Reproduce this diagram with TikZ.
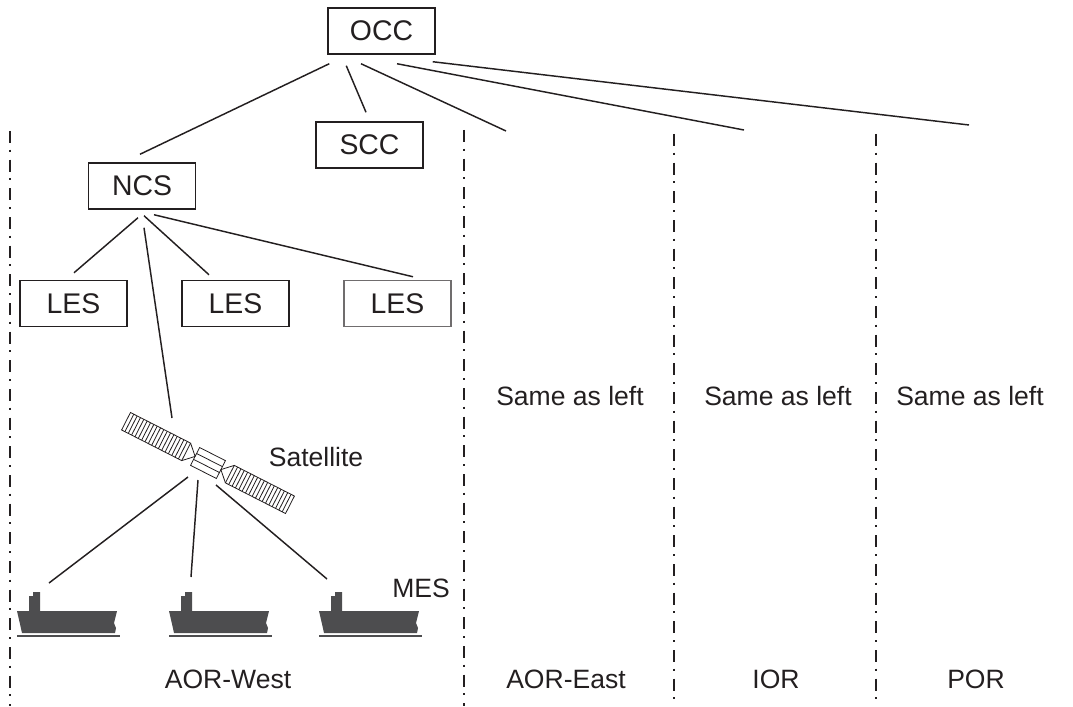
\documentclass[tikz,border=0pt]{standalone}
\usepackage{fontspec}
\setmainfont{Liberation Sans}
\usepackage{tikz}

\definecolor{tinta}{RGB}{35,31,32}
\definecolor{casco}{RGB}{77,77,79}

\tikzset{
	caja/.style={draw=tinta, line width=1.1pt, minimum width=80.25pt, minimum height=34.5pt, inner sep=0pt, text=tinta, font=\fontsize{21.3}{24}\selectfont},
	etiqueta/.style={inner sep=0pt, text=tinta, font=\fontsize{19.9}{24}\selectfont},
	enlace/.style={draw=tinta, line width=1.1pt},
	limite/.style={draw=tinta, line width=0.9pt, dash pattern=on 9pt off 5pt on 1.5pt off 6pt},
	barco/.pic={
		\fill[casco] (0,0) -- (100,0) -- (97,12) -- (99,17) -- (98,22) -- (5,22) -- (3,13) -- cycle;
		\fill[casco] (12,0) -- (12,-15) -- (16,-15) -- (16,-19) -- (23,-19) -- (23,0) -- cycle;
		\draw[casco, line width=1.1pt] (0,25) -- (103,25);
	}
}

\begin{document}
\begin{tikzpicture}[x=0.75pt, y=-0.75pt]

			\useasboundingbox (0,0) rectangle (1073,706);

			% Cajas de control
			\node[caja] (occ) at (381.5,31) {OCC};
			\node[caja] (scc) at (369.5,145) {SCC};
			\node[caja] (ncs) at (142,186) {NCS};
			\node[caja] (les1) at (73.5,303.5) {LES};
			\node[caja] (les2) at (235.5,303.5) {LES};
			\node[caja, draw=tinta!65] (les3) at (397.5,303.5) {LES};

			% Extremos libres hacia las otras regiones
			\coordinate (fin-este) at (506,131);
			\coordinate (fin-ior) at (744,130);
			\coordinate (fin-por) at (969,125);

			% Satelite y barcos
			\coordinate (sat) at (208,463);
			\coordinate (mes1) at (17,611);
			\coordinate (mes2) at (169,611);
			\coordinate (mes3) at (319,611);

			% Lineas divisorias de las regiones
			\draw[limite] (10,131) -- (10,706);
			\draw[limite] (464,130) -- (464,706);
			\draw[limite] (674,134) -- (674,706);
			\draw[limite] (876,134) -- (876,706);

			% Enlaces desde OCC
			\draw[enlace] ([shift={(2,9)}]occ.south west) -- ([shift={(-2,-8)}]ncs.north);
			\draw[enlace] ([shift={(19,11)}]occ.south west) -- ([shift={(-3.5,-9)}]scc.north);
			\draw[enlace] ([shift={(-20.5,9)}]occ.south) -- (fin-este);
			\draw[enlace] ([shift={(15.5,9)}]occ.south) -- (fin-ior);
			\draw[enlace] ([shift={(-3,7)}]occ.south east) -- (fin-por);

			% Enlaces desde NCS
			\draw[enlace] ([shift={(-4,8)}]ncs.south) -- ([shift={(0.5,-7)}]les1.north);
			\draw[enlace] ([shift={(2,6)}]ncs.south) -- ([shift={(-26.5,-5)}]les2.north);
			\draw[enlace] ([shift={(12,5)}]ncs.south) -- ([shift={(15.5,-3)}]les3.north);
			\draw[enlace] ([shift={(2,18)}]ncs.south) -- ([shift={(-36,-45)}]sat);

			% Dibujo del satelite
			\begin{scope}[shift={(sat)}, rotate=-27, draw=tinta, line width=0.6pt]
				\draw (-14.5,-10) rectangle (14.5,10);
				\draw (-14.5,-3.3) -- (14.5,-3.3) (-14.5,3.3) -- (14.5,3.3);
				\foreach \s in {-1,1} {
					\draw (\s*24.5,-9.8) -- (\s*14.5,0) -- (\s*24.5,9.8);
					\draw (\s*24.5,-9.8) rectangle (\s*92,9.8);
					\foreach \i in {1,...,17}
						\draw (\s*24.5+\s*\i*3.75,-9.8) -- (\s*24.5+\s*\i*3.75,9.8);
				}
			\end{scope}
			\node[etiqueta] (satlabel) at (316,457) {Satellite};

			% Barcos (MES)
			\pic at (mes1) {barco};
			\pic at (mes2) {barco};
			\pic at (mes3) {barco};
			\node[etiqueta] (meslabel) at (421,588) {MES};

			% Enlaces satelite - barcos
			\draw[enlace] ([shift={(-20,14)}]sat) -- ([shift={(32,-28)}]mes1);
			\draw[enlace] ([shift={(-10,17)}]sat) -- ([shift={(22,-34)}]mes2);
			\draw[enlace] ([shift={(8,22)}]sat) -- ([shift={(8,-32)}]mes3);

			% Textos de las regiones
			\node[etiqueta] (igual1) at (570,396) {Same as left};
			\node[etiqueta] (igual2) at (778,396) {Same as left};
			\node[etiqueta] (igual3) at (970,396) {Same as left};
			\node[etiqueta] (aorw) at (228,679) {AOR-West};
			\node[etiqueta] (aore) at (566,679) {AOR-East};
			\node[etiqueta] (ior) at (776,679) {IOR};
			\node[etiqueta] (por) at (976,679) {POR};

		\end{tikzpicture}
\end{document}
